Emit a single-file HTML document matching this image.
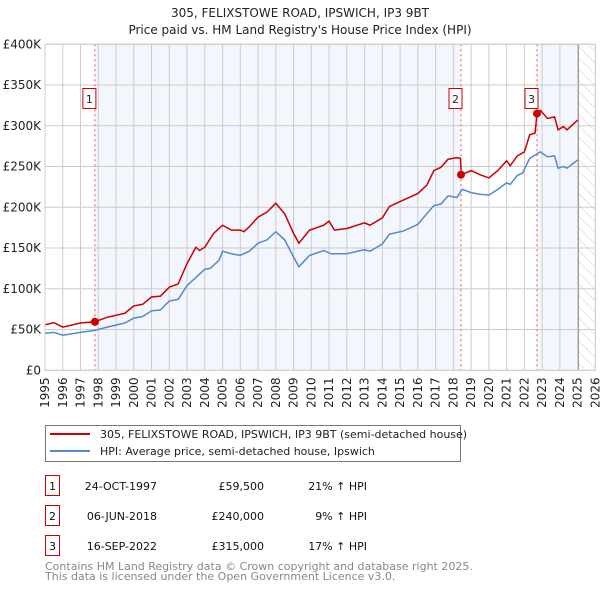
<!DOCTYPE html>
<html><head><meta charset="utf-8"><style>
body{margin:0;background:#fff;}
svg{display:block;font-family:"DejaVu Sans","Liberation Sans",sans-serif;}
</style></head><body>
<svg id="chart" width="600" height="590" viewBox="0 0 600 590" xmlns="http://www.w3.org/2000/svg">
<defs>
<pattern id="hatch" width="8" height="8" patternUnits="userSpaceOnUse" patternTransform="rotate(-45)">
<line x1="0" y1="0" x2="0" y2="8" stroke="#ccc" stroke-width="1"/>
</pattern>
</defs>
<text x="300" y="17" text-anchor="middle" font-size="12" fill="#222">305, FELIXSTOWE ROAD, IPSWICH, IP3 9BT</text>
<text x="300" y="34" text-anchor="middle" font-size="12" fill="#222">Price paid vs. HM Land Registry's House Price Index (HPI)</text>
<g id="plot"></g>
<g>
<rect x="45.5" y="425.5" width="415" height="36" fill="#fff" stroke="#777"/>
<line x1="50" y1="434" x2="90" y2="434" stroke="#cc0000" stroke-width="2"/>
<text x="100" y="438" font-size="11" fill="#222">305, FELIXSTOWE ROAD, IPSWICH, IP3 9BT (semi-detached house)</text>
<line x1="50" y1="451" x2="90" y2="451" stroke="#5588cc" stroke-width="2"/>
<text x="100" y="455" font-size="11" fill="#222">HPI: Average price, semi-detached house, Ipswich</text>
</g>
<g font-size="11" fill="#111">
<rect x="45.5" y="475.5" width="14" height="20" fill="none" stroke="#cc0000"/>
<text x="52.5" y="490" text-anchor="middle">1</text>
<text x="157" y="490" text-anchor="end">24-OCT-1997</text>
<text x="264" y="490" text-anchor="end">£59,500</text>
<text x="367" y="490" text-anchor="end">21% ↑ HPI</text>
<rect x="45.5" y="505.5" width="14" height="20" fill="none" stroke="#cc0000"/>
<text x="52.5" y="520" text-anchor="middle">2</text>
<text x="157" y="520" text-anchor="end">06-JUN-2018</text>
<text x="264" y="520" text-anchor="end">£240,000</text>
<text x="367" y="520" text-anchor="end">9% ↑ HPI</text>
<rect x="45.5" y="535.5" width="14" height="20" fill="none" stroke="#cc0000"/>
<text x="52.5" y="550" text-anchor="middle">3</text>
<text x="157" y="550" text-anchor="end">16-SEP-2022</text>
<text x="264" y="550" text-anchor="end">£315,000</text>
<text x="367" y="550" text-anchor="end">17% ↑ HPI</text>
</g>
<text x="45" y="570" font-size="11" fill="#888">Contains HM Land Registry data © Crown copyright and database right 2025.</text>
<text x="45" y="580" font-size="11" fill="#888">This data is licensed under the Open Government Licence v3.0.</text>
</svg>
<script>
const hpiYears = [1995.0,1995.5,1996.0,1997.0,1997.8,1998.5,1999.5,2000.0,2000.5,2001.0,2001.5,2002.0,2002.5,2003.0,2003.5,2004.0,2004.3,2004.8,2005.0,2005.5,2006.0,2006.5,2007.0,2007.5,2008.0,2008.5,2009.0,2009.3,2009.9,2010.7,2011.1,2012.0,2013.0,2013.3,2014.0,2014.4,2015.2,2016.0,2016.5,2016.9,2017.3,2017.7,2018.2,2018.5,2019.0,2019.5,2020.0,2020.5,2021.0,2021.2,2021.6,2021.9,2022.3,2022.9,2023.3,2023.7,2023.9,2024.2,2024.4,2025.0];
const hpiValues = [45.4,46.5,43,46.5,49,53,58,64,66,73,74,85,87,104,114,124,125,135,146,143,141,146,156,160,170,160,139,127,141,147,143,143,148,146,155,167,171,179,192,202,204,214,212,222,218,216,215,222,230,228,239,242,260,268,262,263,248,250,248,258];
const priceYears = [1995.0,1995.5,1996.0,1997.0,1997.8,1998.5,1999.5,2000.0,2000.5,2001.0,2001.5,2002.0,2002.5,2003.0,2003.5,2003.7,2004.0,2004.5,2005.0,2005.5,2006.0,2006.2,2006.5,2007.0,2007.5,2008.0,2008.5,2009.0,2009.3,2009.9,2010.7,2011.0,2011.3,2012.0,2013.0,2013.3,2014.0,2014.4,2015.2,2016.0,2016.5,2016.9,2017.3,2017.7,2018.2,2018.4,2018.45,2019.0,2019.5,2020.0,2020.5,2021.0,2021.2,2021.6,2022.0,2022.3,2022.6,2022.71,2022.9,2023.3,2023.7,2023.9,2024.2,2024.4,2025.0];
const priceValues = [55.8,58.5,53,58,59.5,65,70,79,81,90,91,102,106,131,151,147,151,168,178,172,172,170,176,188,194,205,192,168,156,172,178,183,172,174,181,178,187,201,209,217,227,245,249,259,261,260,240,245,240,236,245,257,251,263,268,289,291,315,319,309,311,295,299,295,307];
const saleYears = [1997.81,2018.43,2022.71];
const saleValues = [59.5,240,315];
const saleLabels = ["1","2","3"];
const yTicks = [0,50,100,150,200,250,300,350,400];
const yTickLabels = ["£0","£50K","£100K","£150K","£200K","£250K","£300K","£350K","£400K"];
const xTicks = [1995,1996,1997,1998,1999,2000,2001,2002,2003,2004,2005,2006,2007,2008,2009,2010,2011,2012,2013,2014,2015,2016,2017,2018,2019,2020,2021,2022,2023,2024,2025,2026];

const NS="http://www.w3.org/2000/svg";
const L=45,R=595.4,T=44.3,B=370.3,X0=1995,X1=2026,YMAX=400;
const xs=v=>L+(v-X0)/(X1-X0)*(R-L);
const ys=v=>B-v/YMAX*(B-T);
const plot=document.getElementById('plot');
function mk(tag,attrs,parent){const e=document.createElementNS(NS,tag);for(const k in attrs)e.setAttribute(k,attrs[k]);(parent||plot).appendChild(e);return e;}

let e;
e=mk('rect',{x:L,y:T,width:R-L,height:B-T,fill:'#fff'});


e=mk('rect',{x:xs(saleYears[0]),y:T,width:xs(saleYears[1])-xs(saleYears[0]),height:B-T,fill:'#f3f6fd'});


e=mk('rect',{x:xs(saleYears[2]),y:T,width:xs(2025.05)-xs(saleYears[2]),height:B-T,fill:'#f3f6fd'});


e=mk('rect',{x:xs(2025.05),y:T,width:R-xs(2025.05),height:B-T,fill:'url(#hatch)'});



yTicks.forEach((v,i)=>{
  let g=mk('line',{x1:L,x2:R,y1:ys(v),y2:ys(v),stroke:'#ccc','stroke-width':1});
  
  
  let t=mk('text',{x:L-4,y:ys(v)+4,'text-anchor':'end','font-size':12,fill:'#222'});
  t.textContent=yTickLabels[i];
  
  
});
xTicks.forEach(v=>{
  let g=mk('line',{x1:xs(v),x2:xs(v),y1:T,y2:B,stroke:'#ccc','stroke-width':1});
  
  
  let t=mk('text',{x:0,y:0,'text-anchor':'end','font-size':12,fill:'#222',transform:`translate(${xs(v)+4},${B+7}) rotate(-90)`});
  t.textContent=v;
  
  
});
e=mk('line',{x1:xs(2025.05),x2:xs(2025.05),y1:T,y2:B,stroke:'#999','stroke-width':1});



saleYears.forEach(v=>{
  let g=mk('line',{x1:xs(v),x2:xs(v),y1:T,y2:B,stroke:'#ee5555','stroke-width':1,'stroke-dasharray':'2,3'});
  
  
});

e=mk('polyline',{points:hpiYears.map((y,i)=>xs(y)+','+ys(hpiValues[i])).join(' '),fill:'none',stroke:'#5588cc','stroke-width':1.5});


e=mk('polyline',{points:priceYears.map((y,i)=>xs(y)+','+ys(priceValues[i])).join(' '),fill:'none',stroke:'#cc0000','stroke-width':1.5});



saleYears.forEach((v,i)=>{
  let c=mk('circle',{cx:xs(v),cy:ys(saleValues[i]),r:4,fill:'#cc0000'});
  
  
  let bx=mk('rect',{x:xs(v)-12,y:88.5,width:13,height:20,fill:'#fff',stroke:'#cc0000'});
  
  
  let t=mk('text',{x:xs(v)-5.5,y:103,'text-anchor':'middle','font-size':11,fill:'#222'});
  t.textContent=saleLabels[i];
  
  
});
e=mk('rect',{x:L,y:T,width:R-L,height:B-T,fill:'none',stroke:'#ccc'});


</script>
</body></html>
